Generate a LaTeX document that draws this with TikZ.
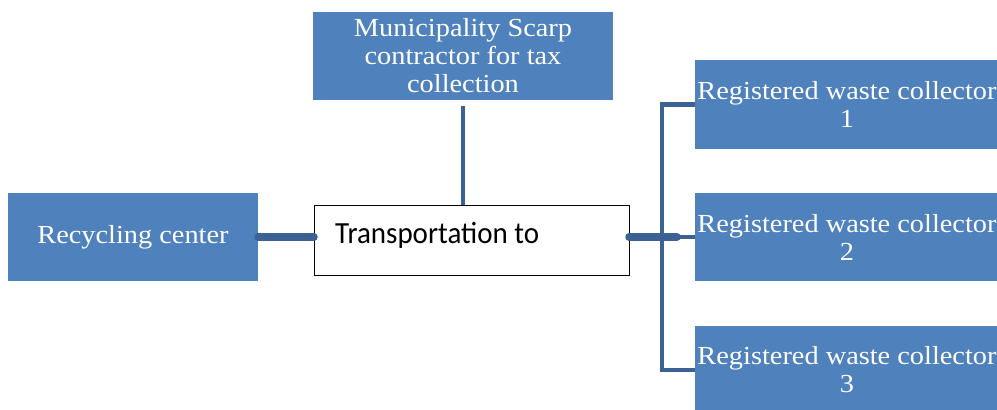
\documentclass[tikz,border=0pt]{standalone}
\usepackage{fontspec}
\setmainfont{Liberation Serif}
\newfontfamily\calib{Carlito}
\definecolor{boxblue}{RGB}{79,129,189}
\definecolor{lineblue}{RGB}{60,98,148}
\newcommand{\sx}[1]{\scalebox{1.09}[1]{#1}}
\begin{document}
\begin{tikzpicture}[x=1pt,y=-1pt,
  bluebox/.style={fill=boxblue, text=white, inner sep=0pt, outer sep=0pt, align=center, font=\fontsize{26}{28}\selectfont},
  thinline/.style={draw=lineblue, line width=4.5pt},
  thickline/.style={draw=lineblue, line width=7.5pt, line cap=round}]
\clip (0,0) rectangle (997,410);
\useasboundingbox (0,0) rectangle (997,410);
\node[bluebox, minimum width=300pt, minimum height=88pt] (muni) at (463,56) {\sx{Municipality Scarp}\\\sx{contractor for tax}\\\sx{collection}};
\node[bluebox, minimum width=250pt, minimum height=88pt] (recycle) at (133,237) {\sx{Recycling center}};
\node[draw=black, line width=1pt, fill=white, inner sep=0pt, outer sep=0pt, minimum width=315pt, minimum height=70pt] (trans) at (471.5,240) {};
\node[anchor=base west, inner sep=0pt, font=\calib\fontsize{29}{34}\selectfont] (ttext) at (335,243) {\scalebox{1}[1.06]{Transportation to}};
\node[bluebox, minimum width=304pt, minimum height=89pt] (c1) at (847,104.5) {\sx{Registered waste collector}\\\sx{1}};
\node[bluebox, minimum width=304pt, minimum height=88pt] (c2) at (847,237) {\sx{Registered waste collector}\\\sx{2}};
\node[bluebox, minimum width=304pt, minimum height=88pt] (c3) at (847,370) {\sx{Registered waste collector}\\\sx{3}};
% connectors
\draw[thinline, shorten <=6pt] (muni.south) -- (muni.south |- trans.north);
\draw[thickline] (trans.west |- recycle.east) -- (recycle.east);
\draw[thinline] (c1.west) -- ++(-33,0) |- (c3.west);
\draw[thinline] (c2.west) -- ++(-18,0) coordinate (m);
\draw[thickline] (m) -- (m -| trans.east);
\end{tikzpicture}
\end{document}
